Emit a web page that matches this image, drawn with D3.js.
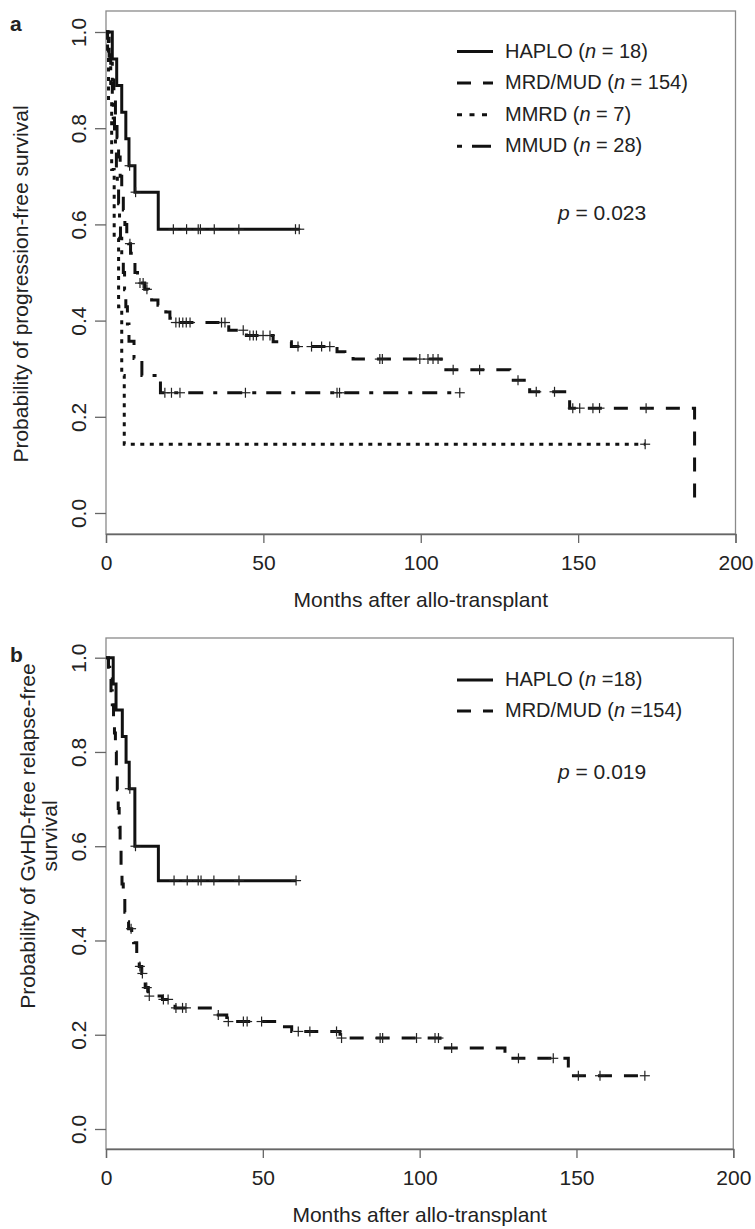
<!DOCTYPE html>
<html>
<head>
<meta charset="utf-8">
<script src="https://cdn.jsdelivr.net/npm/d3@7"></script>
<style>
  html, body { margin: 0; padding: 0; background: #fff; }
  svg text { font-family: "Liberation Sans", Arial, Helvetica, sans-serif; fill: #222; }
</style>
</head>
<body>
<svg id="chart" width="755" height="1229"></svg>
<script>
// ---------- axis ticks ----------
const xTicks = [0, 50, 100, 150, 200];
const yTicks = [0.0, 0.2, 0.4, 0.6, 0.8, 1.0];
const yTickLabels = ["0.0", "0.2", "0.4", "0.6", "0.8", "1.0"];

// ---------- panel a : progression-free survival ----------
const aHaploTime = [0, 2.0, 3.4, 5.0, 6.3, 7.3, 9.2, 16.6];
const aHaploSurv = [1, 0.944, 0.889, 0.833, 0.778, 0.722, 0.667, 0.59];
const aHaploCens = [7.5, 9.4, 21.4, 25.6, 29.3, 30.0, 34.4, 42.2, 60.2, 61.4];

const aMrdTime = [0, 0.5, 1.0, 1.5, 2.0, 2.5, 3.0, 3.5, 4.0, 4.5, 5.0, 5.5, 6.0, 6.6, 7.2, 7.8, 8.5, 9.2, 10.0, 10.6, 12.3, 13.5, 14.5, 16.5, 17.7, 19.0, 20.3, 21.0, 39.0, 44.6, 53.1, 58.9, 73.4, 75.9, 78.5, 106.5, 128.3, 134.6, 147.3, 187.0];
const aMrdSurv = [1, 0.987, 0.967, 0.935, 0.90, 0.86, 0.82, 0.78, 0.74, 0.70, 0.66, 0.63, 0.60, 0.58, 0.56, 0.54, 0.52, 0.50, 0.487, 0.478, 0.465, 0.455, 0.443, 0.432, 0.425, 0.418, 0.405, 0.396, 0.38, 0.369, 0.356, 0.346, 0.335, 0.328, 0.32, 0.298, 0.276, 0.252, 0.218, 0.02];
const aMrdCens = [7.6, 10.8, 11.8, 13.0, 22.2, 23.3, 24.4, 25.5, 26.7, 36.7, 37.8, 43.6, 45.7, 46.8, 47.8, 49.9, 52.1, 61.0, 65.3, 68.5, 71.1, 87.0, 87.8, 99.7, 102.3, 103.9, 105.5, 110.3, 118.7, 130.9, 136.7, 142.5, 148.3, 150.5, 154.7, 156.8, 171.6];

const aMmrdTime = [0, 0.8, 1.8, 2.6, 4.0, 5.0, 5.8];
const aMmrdSurv = [1, 0.857, 0.714, 0.571, 0.429, 0.286, 0.143];
const aMmrdCens = [171.3];

const aMmudTime = [0, 0.5, 1.0, 1.5, 2.0, 2.3, 2.7, 3.0, 3.3, 3.6, 4.0, 4.3, 4.6, 5.0, 5.5, 5.9, 6.3, 6.8, 7.3, 8.9, 11.4, 17.3];
const aMmudSurv = [1, 0.964, 0.929, 0.893, 0.857, 0.821, 0.786, 0.75, 0.714, 0.679, 0.643, 0.607, 0.571, 0.536, 0.5, 0.464, 0.429, 0.393, 0.357, 0.321, 0.286, 0.25];
const aMmudCens = [18.7, 20.8, 23.5, 44.3, 73.4, 74.2, 112.4];

// ---------- panel b : GvHD-free relapse-free survival ----------
const bHaploTime = [0, 2.3, 3.2, 5.2, 6.4, 7.4, 9.2, 16.7];
const bHaploSurv = [1, 0.944, 0.889, 0.833, 0.778, 0.722, 0.60, 0.527];
const bHaploCens = [7.6, 9.4, 21.7, 25.9, 29.4, 30.3, 34.4, 42.4, 60.6];

const bMrdTime = [0, 0.8, 1.2, 1.6, 2.0, 2.4, 2.7, 3.0, 3.3, 3.6, 3.9, 4.2, 4.5, 4.8, 5.1, 5.5, 6.0, 6.5, 7.2, 8.2, 8.8, 9.8, 10.3, 10.6, 11.4, 11.9, 12.5, 13.5, 18.0, 21.0, 22.0, 34.8, 38.5, 55.0, 59.2, 74.6, 106.5, 127.2, 147.4];
const bMrdSurv = [1, 0.98, 0.955, 0.93, 0.90, 0.87, 0.84, 0.80, 0.76, 0.72, 0.68, 0.64, 0.60, 0.56, 0.52, 0.49, 0.46, 0.44, 0.425, 0.41, 0.395, 0.37, 0.357, 0.345, 0.33, 0.315, 0.30, 0.282, 0.275, 0.267, 0.257, 0.242, 0.228, 0.217, 0.207, 0.193, 0.172, 0.15, 0.113];
const bMrdCens = [8.0, 10.8, 11.6, 13.0, 13.8, 18.3, 19.8, 22.3, 24.4, 25.5, 35.8, 39.0, 43.8, 45.0, 49.6, 61.3, 65.0, 73.5, 75.1, 87.4, 88.2, 99.0, 104.9, 106.0, 110.2, 131.5, 142.6, 150.6, 157.5, 171.8];

// ---------- labels ----------
const aLegendNames = ["HAPLO", "MRD/MUD", "MMRD", "MMUD"];
const aLegendN = [" = 18)", " = 154)", " = 7)", " = 28)"];
const bLegendNames = ["HAPLO", "MRD/MUD"];
const bLegendN = [" =18)", " =154)"];
const aPValue = " = 0.023";
const bPValue = " = 0.019";
const xTitle = "Months after allo-transplant";
const aYTitle = ["Probability of progression-free survival"];
const bYTitle = ["Probability of GvHD-free relapse-free", "survival"];

// ---------- styles ----------
const styles = {
  solid:   { dash: null,          legendDash: null,          width: 3 },
  dashed:  { dash: "14,12",       legendDash: "14,12",       width: 3 },
  dotted:  { dash: "4,5.5",       legendDash: "5,7.5",       width: 3 },
  dotdash: { dash: "4,10,15,10",  legendDash: "5,10,19,10",  width: 3 }
};

const svg = d3.select("#chart");
const FS_TICK = 21, FS_TITLE = 21, FS_YTITLE = 21, FS_LEG = 20, FS_P = 21;

function drawPanel(cfg) {
  const x = d3.scaleLinear().domain([0, 200]).range([cfg.left, cfg.right]);
  const y = d3.scaleLinear().domain([0, 1]).range([cfg.y0, cfg.y1]);
  const g = svg.append("g");

  // box
  g.append("rect")
    .attr("x", cfg.left).attr("y", cfg.top)
    .attr("width", cfg.right - cfg.left).attr("height", cfg.bottom - cfg.top)
    .attr("fill", "none").attr("stroke", "#8a8a8a").attr("stroke-width", 1.3);

  // x axis
  const xAxis = d3.axisBottom(x).tickValues(xTicks).tickSize(9).tickPadding(12).tickFormat(d3.format("d"));
  const xg = g.append("g").attr("transform", `translate(0,${cfg.bottom})`).call(xAxis);
  xg.select(".domain").attr("stroke", "#666").attr("stroke-width", 1.3);
  xg.selectAll(".tick line").attr("stroke", "#666").attr("stroke-width", 1.3);
  xg.selectAll(".tick text").attr("font-size", FS_TICK).attr("fill", "#222")
    .attr("font-family", "Liberation Sans, Arial, sans-serif").attr("dy", "0.71em");

  // y axis (labels rotated, R style)
  const yAxis = d3.axisLeft(y).tickValues(yTicks).tickSize(11).tickFormat((d, i) => yTickLabels[i]);
  const yg = g.append("g").attr("transform", `translate(${cfg.left},0)`).call(yAxis);
  yg.select(".domain").remove();
  yg.selectAll(".tick line").attr("stroke", "#666").attr("stroke-width", 1.3);
  yg.selectAll(".tick text").attr("font-size", FS_TICK).attr("fill", "#222")
    .attr("font-family", "Liberation Sans, Arial, sans-serif")
    .attr("text-anchor", "middle").attr("x", null).attr("dy", null)
    .attr("transform", `translate(-20,0) rotate(-90)`);

  // x title
  g.append("text").attr("x", (cfg.left + cfg.right) / 2).attr("y", cfg.bottom + 73)
    .attr("text-anchor", "middle").attr("font-size", FS_TITLE).text(xTitle);

  // y title
  cfg.yTitle.forEach((t, i) => {
    g.append("text")
      .attr("transform", `translate(${cfg.yTitleX[i]},${cfg.yTitleCenter}) rotate(-90)`)
      .attr("text-anchor", "middle").attr("font-size", FS_YTITLE).text(t);
  });

  // panel letter
  g.append("text").attr("x", 10).attr("y", cfg.letterY)
    .attr("font-size", 21).attr("font-weight", "bold").text(cfg.letter);

  // curves
  const line = d3.line().x(d => x(d[0])).y(d => y(d[1])).curve(d3.curveStepAfter);
  cfg.series.forEach(s => {
    const pts = s.time.map((t, i) => [t, s.surv[i]]);
    const lastT = Math.max(s.time[s.time.length - 1], d3.max(s.cens) || 0);
    if (lastT > s.time[s.time.length - 1]) pts.push([lastT, s.surv[s.surv.length - 1]]);
    const st = styles[s.style];
    g.append("path").attr("d", line(pts)).attr("fill", "none")
      .attr("stroke", "#111").attr("stroke-width", st.width)
      .attr("stroke-dasharray", st.dash);
    // censor marks
    const survAt = t => {
      const i = d3.bisectRight(s.time, t) - 1;
      return s.surv[Math.max(0, i)];
    };
    const cg = g.append("g");
    s.cens.forEach(c => {
      const cx = x(c), cy = y(survAt(c));
      cg.append("line").attr("x1", cx).attr("x2", cx).attr("y1", cy - 5).attr("y2", cy + 5)
        .attr("stroke", "#222").attr("stroke-width", 1.2);
      cg.append("line").attr("x1", cx - 5).attr("x2", cx + 5).attr("y1", cy).attr("y2", cy)
        .attr("stroke", "#222").attr("stroke-width", 1.2);
    });
  });

  // legend
  cfg.legend.forEach((name, i) => {
    const by = cfg.legendY + i * cfg.legendStep;
    const st = styles[cfg.series[i].style];
    g.append("line").attr("x1", 457).attr("x2", 493).attr("y1", by - 6).attr("y2", by - 6)
      .attr("stroke", "#111").attr("stroke-width", st.width).attr("stroke-dasharray", st.legendDash);
    const t = g.append("text").attr("x", 505).attr("y", by).attr("font-size", FS_LEG);
    t.append("tspan").text(name + " (");
    t.append("tspan").attr("font-style", "italic").text("n");
    t.append("tspan").text(cfg.legendN[i]);
  });

  // p value
  const p = g.append("text").attr("x", 558).attr("y", cfg.pY).attr("font-size", FS_P);
  p.append("tspan").attr("font-style", "italic").text("p");
  p.append("tspan").text(cfg.pText);
}

drawPanel({
  left: 106, right: 735.5, top: 11, bottom: 534, y0: 513, y1: 32,
  letter: "a", letterY: 31,
  yTitle: aYTitle, yTitleX: [28], yTitleCenter: 284,
  series: [
    { time: aHaploTime, surv: aHaploSurv, cens: aHaploCens, style: "solid" },
    { time: aMrdTime, surv: aMrdSurv, cens: aMrdCens, style: "dashed" },
    { time: aMmrdTime, surv: aMmrdSurv, cens: aMmrdCens, style: "dotted" },
    { time: aMmudTime, surv: aMmudSurv, cens: aMmudCens, style: "dotdash" }
  ],
  legend: aLegendNames, legendN: aLegendN, legendY: 57.5, legendStep: 31.6,
  pY: 220, pText: aPValue
});

drawPanel({
  left: 106, right: 733.3, top: 638, bottom: 1149, y0: 1129, y1: 657.7,
  letter: "b", letterY: 662,
  yTitle: bYTitle, yTitleX: [35, 57], yTitleCenter: 836,
  series: [
    { time: bHaploTime, surv: bHaploSurv, cens: bHaploCens, style: "solid" },
    { time: bMrdTime, surv: bMrdSurv, cens: bMrdCens, style: "dashed" }
  ],
  legend: bLegendNames, legendN: bLegendN, legendY: 686, legendStep: 31,
  pY: 779, pText: bPValue
});
</script>
</body>
</html>
